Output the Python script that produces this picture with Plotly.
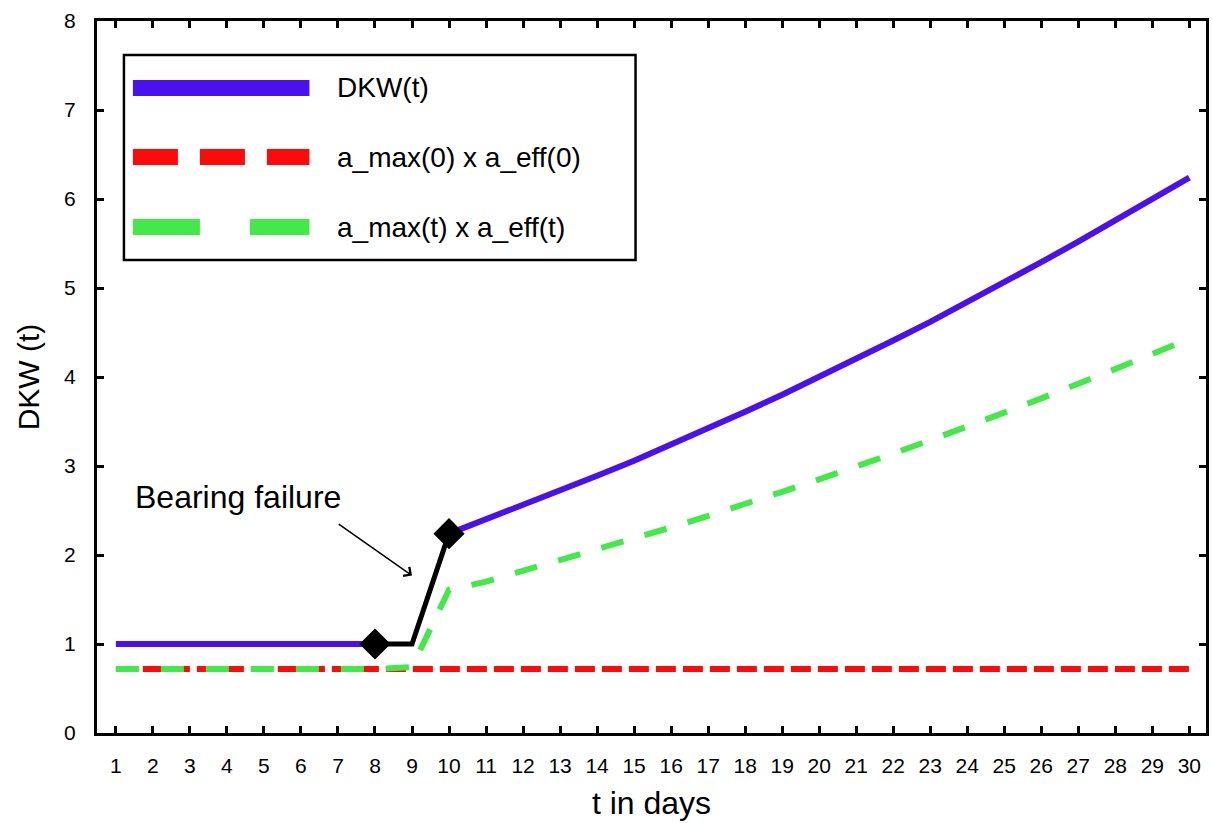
import plotly.graph_objects as go

# ---- data ----
days = list(range(1, 31))
dkw = [1.00, 1.00, 1.00, 1.00, 1.00, 1.00, 1.00, 1.00, 1.00, 2.24,
       2.40, 2.56, 2.72, 2.89, 3.06, 3.24, 3.42, 3.61, 3.80, 4.00,
       4.20, 4.41, 4.62, 4.84, 5.07, 5.29, 5.52, 5.76, 5.99, 6.24]
amax0_aeff0 = [0.72] * 30
amaxt_aefft = [0.72, 0.72, 0.72, 0.72, 0.72, 0.72, 0.72, 0.72, 0.74, 1.61,
               1.70, 1.82, 1.94, 2.06, 2.18, 2.31, 2.44, 2.57, 2.71, 2.85,
               2.99, 3.14, 3.29, 3.44, 3.60, 3.76, 3.92, 4.09, 4.26, 4.43]
failure_days = [8, 9, 10]
marker_days = [8, 10]
legend_names = ["DKW(t)", "a_max(0) x a_eff(0)", "a_max(t) x a_eff(t)"]
x_ticks = days
y_ticks = list(range(0, 9))

BLUE = "#4B10EE"
RED = "#FF0A0A"
GREEN = "#44E84A"
FONT = "Liberation Sans, Arial, sans-serif"

# plot-area pixel geometry (for legend box placement)
W, H = 1212, 823
L, R, T, B = 97, 3, 21, 90
pw, ph = W - L - R, H - T - B


def px(xp):
    return (xp - L) / pw


def py(yp):
    return 1 - (yp - T) / ph


blue_y = [v if d != 9 else None for d, v in zip(days, dkw)]

fig = go.Figure()
fig.add_trace(go.Scatter(x=days, y=amax0_aeff0, mode="lines",
                         line=dict(color=RED, width=6, dash="20px,7px"),
                         showlegend=False))
fig.add_trace(go.Scatter(x=days, y=amaxt_aefft, mode="lines",
                         line=dict(color=GREEN, width=6, dash="23px,22px"),
                         showlegend=False))
fig.add_trace(go.Scatter(x=days, y=blue_y, mode="lines", connectgaps=False,
                         line=dict(color=BLUE, width=6),
                         showlegend=False))
fig.add_trace(go.Scatter(x=failure_days, y=[dkw[d - 1] for d in failure_days],
                         mode="lines", line=dict(color="black", width=5),
                         showlegend=False))
fig.add_trace(go.Scatter(x=marker_days, y=[dkw[d - 1] for d in marker_days],
                         mode="markers",
                         marker=dict(symbol="diamond", size=24, color="black"),
                         showlegend=False))

# legend (drawn manually to mimic the large sample lines)
shapes = [dict(type="rect", xref="paper", yref="paper",
               x0=px(124), x1=px(637), y0=py(260), y1=py(55),
               line=dict(color="black", width=2.5), fillcolor="white", layer="below")]
leg_rows = [(88, BLUE, "solid"), (157, RED, "45px,22px"), (227, GREEN, "67px,50px")]
annotations = []
for (yy, col, dsh), name in zip(leg_rows, legend_names):
    shapes.append(dict(type="line", xref="paper", yref="paper",
                       x0=px(133), x1=px(310), y0=py(yy), y1=py(yy),
                       line=dict(color=col, width=16, dash=dsh)))
    annotations.append(dict(xref="paper", yref="paper", x=px(336), y=py(yy),
                            text=name, showarrow=False, xanchor="left",
                            yanchor="middle",
                            font=dict(size=28, color="black", family=FONT)))

annotations.append(dict(x=4.3, y=2.65, xref="x", yref="y", text="Bearing failure",
                        showarrow=False, font=dict(size=32, color="black", family=FONT)))
annotations.append(dict(x=9.0, y=1.77, xref="x", yref="y", ax=6.98, ay=2.36,
                        axref="x", ayref="y", text="", showarrow=True,
                        arrowhead=4, arrowsize=1.4, arrowwidth=1.5, arrowcolor="black"))

fig.update_layout(
    width=W, height=H,
    margin=dict(l=L, r=R, t=T, b=B),
    paper_bgcolor="white", plot_bgcolor="white",
    font=dict(family=FONT, color="black"),
    shapes=shapes, annotations=annotations,
    xaxis=dict(range=[0.49, 30.45], tickmode="array", tickvals=x_ticks,
               ticks="inside", ticklen=7, tickwidth=2.5, tickcolor="black",
               showline=True, linecolor="black", linewidth=3, mirror="ticks",
               showgrid=False, zeroline=False, ticklabelstandoff=12,
               tickfont=dict(size=21, family=FONT),
               title=dict(text="t in days", font=dict(size=32, family=FONT), standoff=16)),
    yaxis=dict(range=[0, 8], tickmode="array", tickvals=y_ticks,
               ticks="inside", ticklen=7, tickwidth=2.5, tickcolor="black",
               showline=True, linecolor="black", linewidth=3, mirror="ticks",
               showgrid=False, zeroline=False, ticklabelstandoff=14,
               tickfont=dict(size=21, family=FONT),
               title=dict(text="DKW (t)", font=dict(size=30, family=FONT), standoff=16)),
)

fig.write_html("out.html", config={"displayModeBar": False},
               post_script="document.body.style.margin='0';")
